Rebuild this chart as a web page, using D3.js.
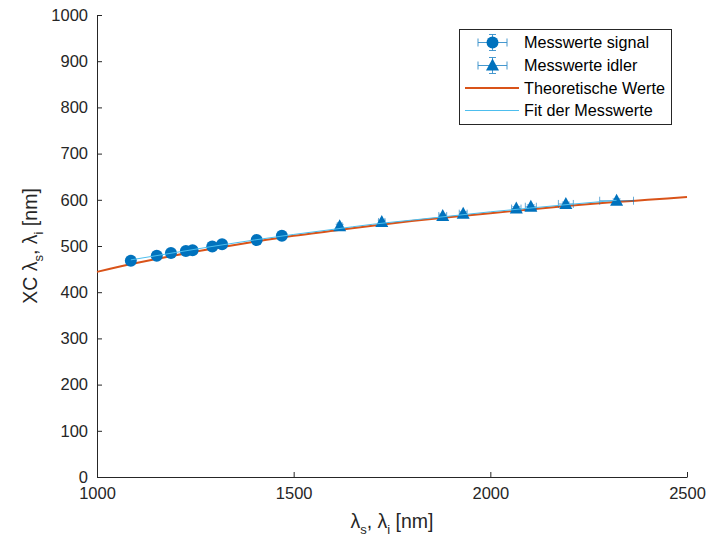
<!DOCTYPE html>
<html><head><meta charset="utf-8">
<script src="https://cdn.jsdelivr.net/npm/d3@7"></script>
<style>
body{margin:0;background:#fff;}
svg{display:block;font-family:"Liberation Sans",Arial,Helvetica,sans-serif;}
</style></head>
<body>
<svg id="c" width="709" height="543"></svg>
<script>
// ---- data ----
const signalX = [1086, 1152, 1188, 1226, 1243, 1293, 1318, 1406, 1470];
const signalY = [468, 479, 485, 489, 491, 499, 504, 513, 522];
const signalXErr = [4, 4, 4, 4, 4, 4, 4, 4, 4];
const signalYErr = [3, 3, 3, 3, 3, 3, 3, 3, 3];

const idlerX = [1617, 1724, 1879, 1931, 2066, 2103, 2192, 2321];
const idlerY = [543, 552, 565, 570, 581, 585, 591, 598];
const idlerXErr = [6, 8, 10, 10, 12, 14, 19, 43];
const idlerYErr = [4, 4, 4, 4, 4, 4, 4, 4];

const theoryX = [1000, 1100, 1200, 1300, 1400, 1500, 1600, 1700, 1800, 1900, 2000, 2100, 2200, 2300, 2400, 2500];
const theoryY = [444, 463, 480, 495, 509, 522, 533, 544, 554, 563, 571, 579, 587, 594, 600, 606];

const fitX = [1086, 1200, 1300, 1400, 1500, 1600, 1700, 1800, 1900, 2000, 2100, 2200, 2321];
const fitY = [470, 486, 500, 513, 525, 536, 547, 556, 565, 574, 582, 590, 599];

const xTicks = [1000, 1500, 2000, 2500];
const yTicks = [0, 100, 200, 300, 400, 500, 600, 700, 800, 900, 1000];
const legendLabels = ["Messwerte signal", "Messwerte idler", "Theoretische Werte", "Fit der Messwerte"];

// ---- layout ----
const svg = d3.select("#c");
const L = 97, R = 687, T = 15, B = 477;
const x = d3.scaleLinear().domain([1000, 2500]).range([L, R]);
const y = d3.scaleLinear().domain([0, 1000]).range([B, T]);
const blue = "#0072BD", orange = "#D95319", light = "#4DBEEE", axisCol = "#262626";

// axes
const xAxis = d3.axisBottom(x).tickValues(xTicks).tickSizeInner(-5).tickSizeOuter(0).tickPadding(10).tickFormat(d3.format("d"));
const yAxis = d3.axisLeft(y).tickValues(yTicks).tickSizeInner(-5).tickSizeOuter(0).tickPadding(9).tickFormat(d3.format("d"));
const gx = svg.append("g").attr("transform", `translate(0,${B})`).call(xAxis);
const gy = svg.append("g").attr("transform", `translate(${L},0)`).call(yAxis);
[gx, gy].forEach(g => {
  g.selectAll("path").attr("stroke", axisCol).attr("stroke-width", 1);
  g.selectAll("line").attr("stroke", axisCol);
  g.selectAll("text").attr("fill", axisCol).attr("font-size", 16.5).attr("font-family", "Liberation Sans, Arial, sans-serif");
});
gx.selectAll("text").attr("dy", "0.75em");

// curves
const lineGen = d3.line().x(d => x(d[0])).y(d => y(d[1])).curve(d3.curveMonotoneX);
svg.append("path").datum(theoryX.map((v, i) => [v, theoryY[i]]))
  .attr("d", lineGen).attr("fill", "none").attr("stroke", orange).attr("stroke-width", 2);

// error bars + markers
function tri(cx, cy) {
  return `M${cx},${cy - 7}L${cx + 6.5},${cy + 5}L${cx - 6.5},${cy + 5}Z`;
}
function drawSeries(xs, ys, xe, ye, shape) {
  const g = svg.append("g");
  xs.forEach((xv, i) => {
    const cx = x(xv), cy = y(ys[i]);
    const x0 = x(xv - xe[i]), x1 = x(xv + xe[i]);
    const y0 = y(ys[i] - ye[i]), y1 = y(ys[i] + ye[i]);
    const eb = g.append("g").attr("stroke", blue).attr("stroke-width", 0.8).attr("opacity", 0.75);
    eb.append("line").attr("x1", x0).attr("x2", x1).attr("y1", cy).attr("y2", cy);
    eb.append("line").attr("x1", x0).attr("x2", x0).attr("y1", cy - 4).attr("y2", cy + 4);
    eb.append("line").attr("x1", x1).attr("x2", x1).attr("y1", cy - 4).attr("y2", cy + 4);
    eb.append("line").attr("x1", cx).attr("x2", cx).attr("y1", y0).attr("y2", y1);
    eb.append("line").attr("x1", cx - 4).attr("x2", cx + 4).attr("y1", y0).attr("y2", y0);
    eb.append("line").attr("x1", cx - 4).attr("x2", cx + 4).attr("y1", y1).attr("y2", y1);
  });
  xs.forEach((xv, i) => {
    const cx = x(xv), cy = y(ys[i]);
    if (shape === "circle") {
      g.append("circle").attr("cx", cx).attr("cy", cy).attr("r", 6).attr("fill", blue);
    } else {
      g.append("path").attr("d", tri(cx, cy)).attr("fill", blue);
    }
  });
}
drawSeries(signalX, signalY, signalXErr, signalYErr, "circle");
drawSeries(idlerX, idlerY, idlerXErr, idlerYErr, "triangle");

svg.append("path").datum(fitX.map((v, i) => [v, fitY[i]]))
  .attr("d", lineGen).attr("fill", "none").attr("stroke", light).attr("stroke-width", 1);

// axis labels
function labelParts(t, prefix) {
  t.append("tspan").text(prefix + "λ");
  t.append("tspan").attr("font-size", 13).attr("dy", 6).text("s");
  t.append("tspan").attr("dy", -6).text(", λ");
  t.append("tspan").attr("font-size", 13).attr("dy", 6).text("i");
  t.append("tspan").attr("dy", -6).text(" [nm]");
}
const xl = svg.append("text").attr("x", (L + R) / 2).attr("y", 528).attr("text-anchor", "middle")
  .attr("font-size", 19.5).attr("fill", axisCol);
labelParts(xl, "");

const yl = svg.append("text").attr("transform", `translate(37,${(T + B) / 2}) rotate(-90)`).attr("text-anchor", "middle")
  .attr("font-size", 19.5).attr("fill", axisCol);
labelParts(yl, "XC ");

// legend
const lg = svg.append("g");
lg.append("rect").attr("x", 459.5).attr("y", 29.5).attr("width", 212).attr("height", 95)
  .attr("fill", "#fff").attr("stroke", axisCol).attr("stroke-width", 1);
const rowY = [42.5, 65.5, 88, 110.5];
legendLabels.forEach((t, i) => {
  const cy = rowY[i];
  if (i < 2) {
    const e = lg.append("g").attr("stroke", blue).attr("stroke-width", 0.9).attr("opacity", 0.8);
    e.append("line").attr("x1", 478).attr("x2", 507).attr("y1", cy).attr("y2", cy);
    e.append("line").attr("x1", 478).attr("x2", 478).attr("y1", cy - 4).attr("y2", cy + 4);
    e.append("line").attr("x1", 507).attr("x2", 507).attr("y1", cy - 4).attr("y2", cy + 4);
    e.append("line").attr("x1", 492.5).attr("x2", 492.5).attr("y1", cy - 8).attr("y2", cy + 8);
    e.append("line").attr("x1", 489).attr("x2", 496).attr("y1", cy - 8).attr("y2", cy - 8);
    e.append("line").attr("x1", 489).attr("x2", 496).attr("y1", cy + 8).attr("y2", cy + 8);
    if (i === 0) lg.append("circle").attr("cx", 492.5).attr("cy", cy).attr("r", 6).attr("fill", blue);
    else lg.append("path").attr("d", tri(492.5, cy)).attr("fill", blue);
  } else {
    lg.append("line").attr("x1", 465).attr("x2", 519).attr("y1", cy).attr("y2", cy)
      .attr("stroke", i === 2 ? orange : light).attr("stroke-width", i === 2 ? 2 : 1);
  }
  lg.append("text").attr("x", 524).attr("y", cy).attr("dy", "0.35em").attr("font-size", 16.2)
    .attr("fill", "#000").text(t);
});
</script>
</body></html>
